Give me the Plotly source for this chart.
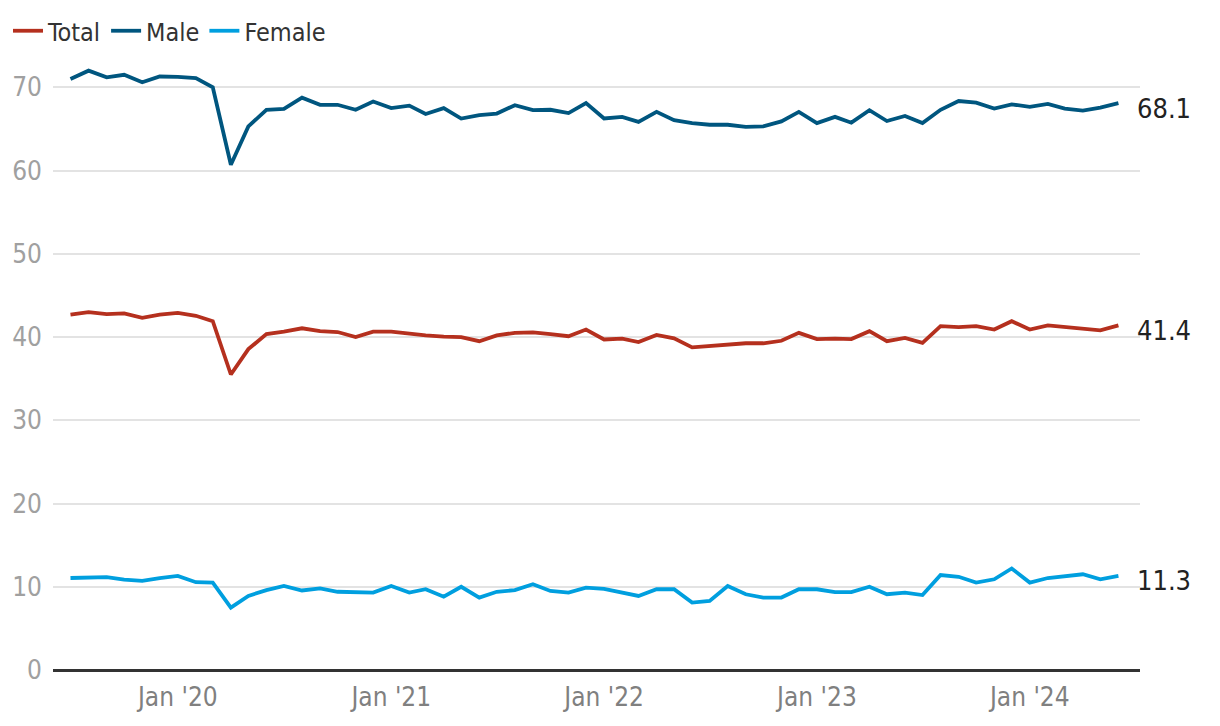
import pandas as pd
import plotly.graph_objects as go

months = pd.date_range("2019-07-01", periods=60, freq="MS")

total = [42.7, 43.0, 42.75, 42.85, 42.3, 42.7, 42.9, 42.55, 41.9, 35.5,
         38.55, 40.35, 40.65, 41.05, 40.7, 40.6, 40.0, 40.65, 40.65, 40.4,
         40.2, 40.05, 40.0, 39.5, 40.2, 40.5, 40.55, 40.35, 40.1, 40.9,
         39.7, 39.8, 39.4, 40.25, 39.85, 38.75, 38.9, 39.15, 39.25, 39.25,
         39.55, 40.5, 39.75, 39.8, 39.75, 40.7, 39.5, 39.9, 39.3, 41.3,
         41.2, 41.3, 40.9, 41.9, 40.9, 41.4, 41.2, 41.0, 40.8, 41.4]

male = [71.0, 72.0, 71.2, 71.5, 70.6, 71.3, 71.25, 71.1, 70.0, 60.7,
        65.3, 67.3, 67.4, 68.75, 67.9, 67.9, 67.3, 68.3, 67.5, 67.8,
        66.8, 67.5, 66.25, 66.65, 66.85, 67.85, 67.25, 67.3, 66.9, 68.1,
        66.25, 66.45, 65.85, 67.05, 66.05, 65.7, 65.5, 65.5, 65.25, 65.3,
        65.9, 67.05, 65.7, 66.45, 65.75, 67.25, 65.95, 66.55, 65.7, 67.3,
        68.35, 68.15, 67.45, 67.95, 67.65, 68.0, 67.45, 67.2, 67.55, 68.1]

female = [11.05, 11.05, 11.15, 10.85, 10.7, 11.05, 11.3, 10.55, 10.5, 7.5,
          8.9, 9.6, 10.1, 9.55, 9.8, 9.4, 9.3, 9.3, 10.1, 9.3,
          9.7, 8.8, 10.0, 8.7, 9.4, 9.6, 10.3, 9.5, 9.3, 9.9,
          9.75, 9.35, 8.9, 9.7, 9.7, 8.1, 8.3, 10.1, 9.1, 8.7,
          8.7, 9.7, 9.7, 9.35, 9.35, 10.0, 9.1, 9.3, 9.0, 11.4,
          11.2, 10.5, 10.9, 12.2, 10.5, 11.05, 11.3, 11.5, 10.9, 11.3]

series_names = ["Total", "Male", "Female"]
series_colors = ["#B5301E", "#00567F", "#009FDF"]
end_labels = ["41.4", "68.1", "11.3"]

tick_vals = ["2020-01-01", "2021-01-01", "2022-01-01", "2023-01-01", "2024-01-01"]
tick_text = ["Jan '20", "Jan '21", "Jan '22", "Jan '23", "Jan '24"]
y_ticks = [0, 10, 20, 30, 40, 50, 60, 70]

FONT = "DejaVu Sans Condensed, Roboto, Noto Sans, sans-serif"

fig = go.Figure()
for name, vals, col, lab in zip(series_names, [total, male, female], series_colors, end_labels):
    fig.add_trace(go.Scatter(x=months, y=vals, name=name, mode="lines",
                             line=dict(color=col, width=3.8)))
    fig.add_annotation(x=months[-1], y=vals[-1], text=lab, showarrow=False,
                       xanchor="left", yanchor="middle", xshift=17, yshift=-5,
                       font=dict(family=FONT, size=27, color="#222222"))

fig.update_layout(
    width=1220, height=726,
    margin=dict(l=45, r=88, t=46, b=64, autoexpand=False),
    paper_bgcolor="white", plot_bgcolor="white",
    font=dict(family=FONT, size=24, color="#333333"),
    showlegend=True,
    legend=dict(orientation="h", x=-0.008, xanchor="left", xref="container",
                y=1.0, yanchor="top", yref="container",
                font=dict(size=25, color="#333333"), itemwidth=30,
                bgcolor="rgba(0,0,0,0)"),
    xaxis=dict(range=["2019-06-01", "2024-07-08"], tickvals=tick_vals, ticktext=tick_text,
               showgrid=False, showline=False, zeroline=False, ticks="",
               automargin=False, ticklabelstandoff=9,
               tickfont=dict(size=26, color="#808080")),
    yaxis=dict(range=[0, 74], tickvals=y_ticks, showgrid=True, gridcolor="#E3E3E3",
               gridwidth=1.5, zeroline=True, zerolinecolor="#333333", zerolinewidth=2.5,
               showline=False, ticks="", ticklabelstandoff=10, automargin=False,
               tickfont=dict(size=26, color="#A0A0A0")),
)

fig.write_html("out.html")
